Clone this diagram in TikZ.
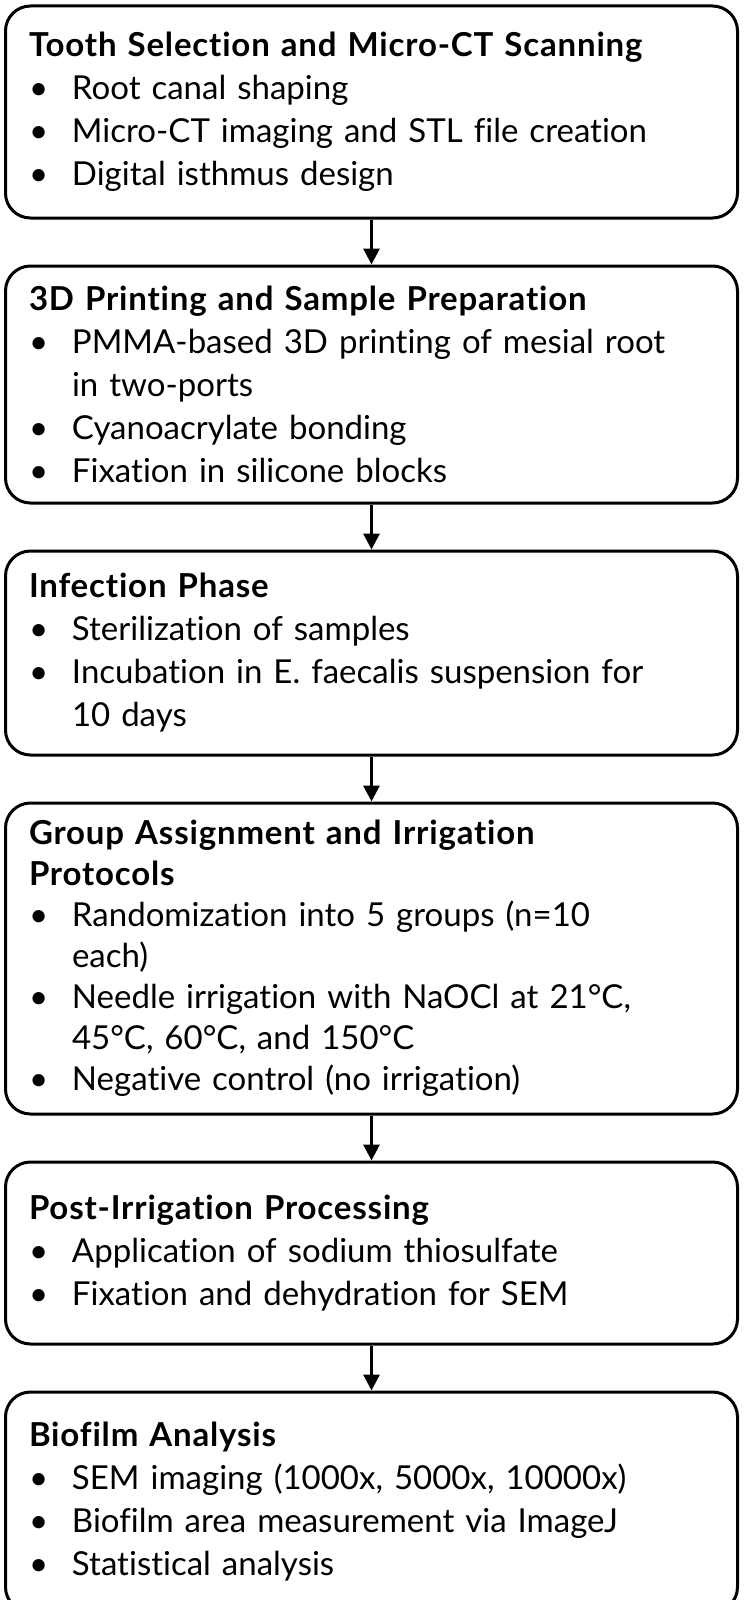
\documentclass[tikz,border=0pt]{standalone}
\usepackage{fontspec}
\setmainfont{Lato}[Ligatures=NoCommon, BoldFeatures={LetterSpace=2.5}]
\usetikzlibrary{arrows.meta,positioning}

\newcommand{\bul}{\makebox[43pt][l]{\textbullet}}
\newcommand{\cnt}{\hspace*{43pt}}

\begin{document}
\begin{tikzpicture}[
    node distance=45pt,
    every node/.style={font=\fontsize{33}{43}\selectfont},
    stage/.style={draw, line width=3pt, rounded corners=25pt, align=left, text width=685pt, inner xsep=23.5pt, inner ysep=0pt},
    flow/.style={-{Triangle[length=16pt, width=16pt]}, line width=3pt}
]
\useasboundingbox (0,0) rectangle (744pt,-1600pt);
\node[stage, minimum height=212pt, anchor=north] (scan) at (371.5pt,-4.5pt) {\textbf{Tooth Selection and Micro-CT Scanning}\\
\bul Root canal shaping\\
\bul Micro-CT imaging and STL file creation\\
\bul Digital isthmus design};
\node[stage, minimum height=237pt, below=of scan] (print) {\textbf{3D Printing and Sample Preparation}\\
\bul PMMA-based 3D printing of mesial root\\
\cnt in two-ports\\
\bul Cyanoacrylate bonding\\
\bul Fixation in silicone blocks};
\node[stage, minimum height=204pt, below=of print] (infect) {\textbf{Infection Phase}\\
\bul Sterilization of samples\\
\bul Incubation in E. faecalis suspension for\\
\cnt 10 days};
\node[stage, minimum height=311pt, below=of infect, font=\fontsize{33}{41}\selectfont] (assign) {\textbf{Group Assignment and Irrigation}\\
\textbf{Protocols}\\
\bul Randomization into 5 groups (n=10\\
\cnt each)\\
\bul Needle irrigation with NaOCl at 21°C,\\
\cnt 45°C, 60°C, and 150°C\\
\bul Negative control (no irrigation)};
\node[stage, minimum height=182pt, below=of assign] (process) {\textbf{Post-Irrigation Processing}\\
\bul Application of sodium thiosulfate\\
\bul Fixation and dehydration for SEM};
\node[stage, minimum height=220pt, below=of process] (analysis) {\textbf{Biofilm Analysis}\\
\bul SEM imaging (1000x, 5000x, 10000x)\\
\bul Biofilm area measurement via ImageJ\\
\bul Statistical analysis};
\draw[flow] (scan) -- (print);
\draw[flow] (print) -- (infect);
\draw[flow] (infect) -- (assign);
\draw[flow] (assign) -- (process);
\draw[flow] (process) -- (analysis);
\end{tikzpicture}
\end{document}
